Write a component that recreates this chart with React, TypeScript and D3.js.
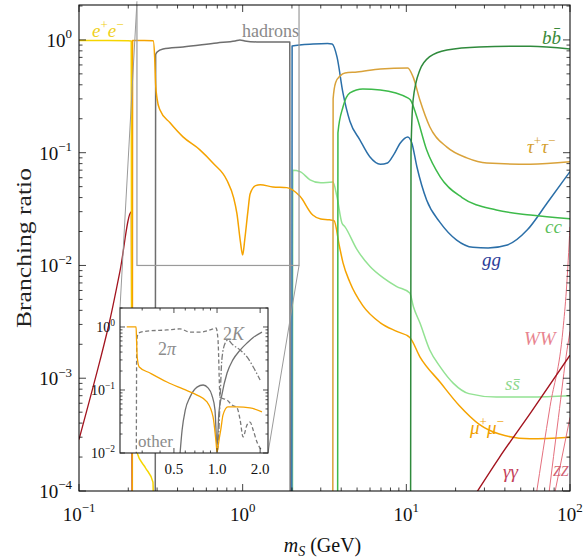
import React from 'react';
import * as d3 from 'd3';

type Pt = [number, number];

// main panel: branching ratios vs m_S (GeV)
const eeBR: Pt[] = [[0.1, 0.99], [0.15, 0.99], [0.2, 0.985], [0.2085, 0.98], [0.2095, 0.003], [0.214, 6e-4], [0.22, 3e-4], [0.226, 2.2e-4], [0.255, 1.6e-4], [0.283, 1.2e-4], [0.286, 5e-5]];
const mumuBR: Pt[] = [[0.2115, 1e-5], [0.2125, 0.99], [0.25, 0.99], [0.284, 0.985], [0.29, 0.7], [0.294, 0.4], [0.3, 0.3], [0.312, 0.24], [0.36, 0.184], [0.432, 0.138], [0.548, 0.106], [0.658, 0.081], [0.801, 0.057], [0.88, 0.04], [0.922, 0.029], [0.97, 0.016], [1.0, 0.0124], [1.03, 0.017], [1.076, 0.03], [1.11, 0.043], [1.2, 0.051], [1.28, 0.052], [1.53, 0.0497], [1.86, 0.049], [2.24, 0.041], [2.68, 0.028], [3.0, 0.0258], [3.39, 0.0254], [3.62, 0.0249], [3.9, 0.0148], [4.1, 0.0106], [4.52, 0.0071], [5.42, 0.0044], [6.94, 0.0031], [8.74, 0.0026], [10.5, 0.0023], [12.1, 0.00155], [16.1, 0.00092], [21.1, 0.00057], [27.9, 0.00039], [37, 0.00032], [57, 0.00029], [100, 0.0003]];
const hadronsBR: Pt[] = [[0.292, 1e-5], [0.294, 0.74], [0.3, 0.78], [0.326, 0.832], [0.432, 0.867], [0.697, 0.941], [0.9, 0.98], [0.963, 1.0], [1.03, 0.98], [1.22, 0.96], [1.94, 0.96], [1.955, 1e-5]];
const ggBR: Pt[] = [[1.995, 1e-5], [2.005, 0.885], [2.69, 0.92], [3.3, 0.93], [3.52, 0.92], [3.77, 0.707], [4.1, 0.339], [4.52, 0.19], [5.2, 0.13], [5.98, 0.092], [6.94, 0.079], [7.67, 0.081], [8.34, 0.095], [9.19, 0.122], [10.2, 0.138], [10.8, 0.122], [11.6, 0.075], [13.3, 0.038], [16.1, 0.024], [20.3, 0.0168], [25.5, 0.0145], [31.6, 0.0143], [41.4, 0.0152], [54.9, 0.0207], [72.7, 0.036], [100, 0.068]];
const ssBR: Pt[] = [[2.015, 1e-5], [2.025, 0.07], [2.24, 0.068], [2.58, 0.0575], [3.0, 0.054], [3.56, 0.055], [3.77, 0.0405], [4.04, 0.0238], [4.22, 0.022], [5.0, 0.0138], [6.0, 0.0098], [7.2, 0.0078], [8.74, 0.0065], [10.5, 0.0057], [11.05, 0.0043], [12.1, 0.0031], [13.9, 0.00178], [16.1, 0.00126], [19.4, 0.0009], [24.1, 0.00073], [35.5, 0.00068], [57, 0.00068], [100, 0.0007]];
const tautauBR: Pt[] = [[3.55, 1e-5], [3.57, 0.3], [3.7, 0.42], [3.94, 0.48], [4.22, 0.51], [5.0, 0.52], [6.94, 0.553], [10.2, 0.565], [11.0, 0.47], [12.1, 0.293], [13.9, 0.17], [17.7, 0.112], [23.4, 0.09], [31, 0.081], [57.3, 0.079], [100, 0.083]];
const ccBR: Pt[] = [[3.8, 1e-5], [3.82, 0.15], [4.1, 0.254], [4.52, 0.339], [5.42, 0.368], [6.94, 0.36], [10.2, 0.306], [10.6, 0.293], [11.6, 0.207], [13.3, 0.106], [16.1, 0.061], [21.9, 0.04], [35.5, 0.031], [57.3, 0.028], [100, 0.026]];
const bbBR: Pt[] = [[10.6, 1e-5], [10.68, 0.1], [11.0, 0.293], [12.1, 0.54], [13.9, 0.71], [17.7, 0.815], [27.8, 0.867], [57.3, 0.88], [100, 0.83]];
const gamgamLowBR: Pt[] = [[0.1, 2.86e-4], [0.1167, 6.6e-4], [0.1343, 1.43e-3], [0.1546, 3.3e-3], [0.178, 8.9e-3], [0.209, 0.03], [0.212, 1e-5]];
const gamgamHighBR: Pt[] = [[26, 9e-5], [37, 1.98e-4], [57.3, 4.9e-4], [100, 1.6e-3]];
const wwBR: Pt[] = [[62, 9e-5], [75.5, 5.6e-4], [90.6, 2.7e-3], [95, 6e-3], [100, 0.022]];
const zzBR: Pt[] = [[74, 9e-5], [85, 4.5e-4], [96, 1.8e-3], [100, 2.6e-3]];
const zzLowBR: Pt[] = [[80, 9e-5], [100, 4.5e-4]];

// inset: hadronic channels, 0.2 - 2.2 GeV
const insetMumu: Pt[] = [[0.234, 1.0], [0.272, 1.0], [0.274, 0.62], [0.277, 0.334], [0.286, 0.232], [0.34, 0.186], [0.447, 0.134], [0.578, 0.104], [0.725, 0.083], [0.851, 0.0645], [0.938, 0.0373], [0.984, 0.015], [1.0, 0.0104], [1.033, 0.0162], [1.067, 0.025], [1.1, 0.04], [1.19, 0.054], [1.38, 0.054], [1.7, 0.052], [2.06, 0.045]];
const inset2pi: Pt[] = [[0.273, 0.009], [0.275, 0.62], [0.283, 0.8], [0.324, 0.86], [0.447, 0.896], [0.551, 0.93], [0.647, 0.83], [0.76, 0.83], [0.893, 0.896], [0.984, 0.964], [1.016, 0.62], [1.05, 0.077], [1.175, 0.069], [1.27, 0.058], [1.38, 0.052], [1.45, 0.0334], [1.52, 0.018], [1.62, 0.028], [1.7, 0.031], [1.79, 0.023], [1.91, 0.0145], [2.06, 0.011]];
const inset2K: Pt[] = [[1.0, 0.0105], [1.016, 0.0125], [1.05, 0.069], [1.08, 0.3], [1.14, 0.557], [1.19, 0.62], [1.29, 0.52], [1.45, 0.43], [1.62, 0.334], [1.79, 0.232], [2.0, 0.144]];
const insetOther: Pt[] = [[0.551, 0.0095], [0.57, 0.023], [0.6, 0.048], [0.647, 0.077], [0.725, 0.111], [0.8, 0.12], [0.865, 0.108], [0.92, 0.083], [0.968, 0.048], [1.0, 0.0125], [1.03, 0.043], [1.08, 0.083], [1.175, 0.186], [1.29, 0.3], [1.45, 0.43], [1.62, 0.557], [1.79, 0.68], [2.06, 0.83]];

// ticks
const xMajorExp = [-1, 0, 1, 2];
const yMajorExp = [0, -1, -2, -3, -4];
const insetXTicks = [0.5, 1.0, 2.0];
const insetXLabels = ['0.5', '1.0', '2.0'];
const insetXMinor = [0.3, 0.4, 0.6, 0.7, 0.8, 0.9];
const insetYExp = [0, -1, -2];

const W = 585, H = 558;
const F = { l: 79, r: 570, t: 5, b: 491 };
const I = { l: 120, r: 268, t: 308, b: 453 };
const zoomX: Pt = [0.226, 2.21];
const zoomY: Pt = [0.01, 2.2];

const serif = '"Liberation Serif", "DejaVu Serif", serif';

const x = d3.scaleLog().domain([0.1, 100]).range([F.l, F.r]);
const y = d3.scaleLog().domain([1e-4, 2.04]).range([F.b, F.t]);
const xi = d3.scaleLog().domain([0.21, 2.27]).range([I.l, I.r]);
const yi = d3.scaleLog().domain([0.01, 2.0]).range([I.b, I.t]);

const mainLine = d3.line<Pt>().x(d => x(d[0])).y(d => y(d[1])).curve(d3.curveMonotoneX);
const insetLine = d3.line<Pt>().x(d => xi(d[0])).y(d => yi(d[1])).curve(d3.curveMonotoneX);

const mainSeries = [
  { pts: gamgamLowBR, color: '#a3141f', w: 1.3 },
  { pts: eeBR, color: '#f6d500', w: 1.5 },
  { pts: hadronsBR, color: '#6e6e6e', w: 1.5 },
  { pts: ssBR, color: '#93e293', w: 1.5 },
  { pts: ggBR, color: '#2b6fa8', w: 1.5 },
  { pts: mumuBR, color: '#f5a300', w: 1.5 },
  { pts: tautauBR, color: '#d9a23a', w: 1.5 },
  { pts: ccBR, color: '#3dba4a', w: 1.5 },
  { pts: bbBR, color: '#2f8a3c', w: 1.5 },
  { pts: wwBR, color: '#e5707e', w: 1 },
  { pts: zzBR, color: '#e5707e', w: 1 },
  { pts: zzLowBR, color: '#e5707e', w: 1 },
  { pts: gamgamHighBR, color: '#a3141f', w: 1.4 },
];

const insetSeries = [
  { pts: insetOther, color: '#707070', dash: undefined as string | undefined },
  { pts: inset2pi, color: '#7a7a7a', dash: '4,2.5' },
  { pts: inset2K, color: '#7a7a7a', dash: '6,2,1.5,2' },
  { pts: insetMumu, color: '#f5a300', dash: undefined },
];

function decadeMinors(lo: number, hi: number, domain: [number, number]) {
  const out: number[] = [];
  for (let e = lo; e <= hi; e++) {
    for (let m = 2; m <= 9; m++) {
      const v = m * Math.pow(10, e);
      if (v > domain[0] && v < domain[1]) out.push(v);
    }
  }
  return out;
}

function Pow({ px, py, exp, size, anchor }: { px: number; py: number; exp: number; size: number; anchor: string }) {
  const s = size * 0.68;
  return (
    <text x={px} y={py} fontSize={size} textAnchor={anchor} fontFamily={serif} fill="#111">
      10<tspan dy={-size * 0.45} fontSize={s}>{exp < 0 ? '\u2212' + Math.abs(exp) : String(exp)}</tspan>
    </text>
  );
}

export default function App() {
  const xMinor = decadeMinors(-1, 1, [0.1, 100]);
  const yMinor = decadeMinors(-4, 0, [1e-4, 2.04]);
  const yiMinor = decadeMinors(-2, 0, [0.01, 2.01]);
  const maj = 7, mnr = 3.5, imaj = 5, imnr = 2.5;

  return (
    <svg width={W} height={H} style={{ position: 'absolute', left: 0, top: 0, background: '#fff' }}>
      <defs>
        <clipPath id="mainClip"><rect x={F.l} y={F.t} width={F.r - F.l} height={F.b - F.t} /></clipPath>
        <clipPath id="insetClip"><rect x={I.l} y={I.t} width={I.r - I.l} height={I.b - I.t} /></clipPath>
      </defs>

      <g clipPath="url(#mainClip)" fill="none">
        {mainSeries.map((s, i) => (
          <path key={i} d={mainLine(s.pts) || ''} stroke={s.color} strokeWidth={s.w} strokeLinejoin="round" />
        ))}
        {/* zoomed region */}
        <rect x={x(zoomX[0])} y={y(zoomY[1])} width={x(zoomX[1]) - x(zoomX[0])} height={y(zoomY[0]) - y(zoomY[1])}
          stroke="#9a9a9a" strokeWidth={1.2} />
      </g>

      {/* connectors to inset */}
      <line x1={x(zoomX[0])} y1={y(zoomY[1])} x2={I.l} y2={I.t} stroke="#9a9a9a" strokeWidth={1} />
      <line x1={x(zoomX[1])} y1={y(zoomY[0])} x2={I.r} y2={I.b} stroke="#9a9a9a" strokeWidth={1} />

      {/* inset */}
      <rect x={I.l} y={I.t} width={I.r - I.l} height={I.b - I.t} fill="#fff" />
      <g clipPath="url(#insetClip)" fill="none">
        {insetSeries.map((s, i) => (
          <path key={i} d={insetLine(s.pts) || ''} stroke={s.color} strokeWidth={1.3} strokeDasharray={s.dash} />
        ))}
      </g>
      <g stroke="#222" strokeWidth={0.8}>
        {insetXTicks.map(v => (
          <g key={'ixt' + v}>
            <line x1={xi(v)} x2={xi(v)} y1={I.b} y2={I.b - imaj} />
            <line x1={xi(v)} x2={xi(v)} y1={I.t} y2={I.t + imaj} />
          </g>
        ))}
        {insetXMinor.map(v => (
          <g key={'ixm' + v}>
            <line x1={xi(v)} x2={xi(v)} y1={I.b} y2={I.b - imnr} />
            <line x1={xi(v)} x2={xi(v)} y1={I.t} y2={I.t + imnr} />
          </g>
        ))}
        {insetYExp.map(e => (
          <g key={'iyt' + e}>
            <line x1={I.l} x2={I.l + imaj} y1={yi(Math.pow(10, e))} y2={yi(Math.pow(10, e))} />
            <line x1={I.r} x2={I.r - imaj} y1={yi(Math.pow(10, e))} y2={yi(Math.pow(10, e))} />
          </g>
        ))}
        {yiMinor.map(v => (
          <g key={'iym' + v}>
            <line x1={I.l} x2={I.l + imnr} y1={yi(v)} y2={yi(v)} />
            <line x1={I.r} x2={I.r - imnr} y1={yi(v)} y2={yi(v)} />
          </g>
        ))}
      </g>
      <rect x={I.l} y={I.t} width={I.r - I.l} height={I.b - I.t} fill="none" stroke="#222" strokeWidth={1.1} />
      {insetYExp.map(e => (
        <Pow key={'iyl' + e} px={I.l - 5} py={yi(Math.pow(10, e)) + 5} exp={e} size={14} anchor="end" />
      ))}
      {insetXTicks.map((v, i) => (
        <text key={'ixl' + v} x={xi(v)} y={I.b + 21} fontSize={15} textAnchor="middle" fontFamily={serif} fill="#111">{insetXLabels[i]}</text>
      ))}
      <g fontFamily={serif} fill="#8c8c8c">
        <text x={158} y={355} fontSize={18}>2<tspan fontStyle="italic">π</tspan></text>
        <text x={223} y={340} fontSize={18}>2<tspan fontStyle="italic">K</tspan></text>
        <text x={138} y={447} fontSize={17}>other</text>
      </g>

      {/* main frame and ticks */}
      <g stroke="#111" strokeWidth={0.8}>
        {xMajorExp.map(e => {
          const px = x(Math.pow(10, e));
          return (
            <g key={'xt' + e}>
              <line x1={px} x2={px} y1={F.b} y2={F.b - maj} />
              <line x1={px} x2={px} y1={F.t} y2={F.t + maj} />
            </g>
          );
        })}
        {xMinor.map(v => (
          <g key={'xm' + v}>
            <line x1={x(v)} x2={x(v)} y1={F.b} y2={F.b - mnr} />
            <line x1={x(v)} x2={x(v)} y1={F.t} y2={F.t + mnr} />
          </g>
        ))}
        {yMajorExp.map(e => {
          const py = y(Math.pow(10, e));
          return (
            <g key={'yt' + e}>
              <line x1={F.l} x2={F.l + maj} y1={py} y2={py} />
              <line x1={F.r} x2={F.r - maj} y1={py} y2={py} />
            </g>
          );
        })}
        {yMinor.map(v => (
          <g key={'ym' + v}>
            <line x1={F.l} x2={F.l + mnr} y1={y(v)} y2={y(v)} />
            <line x1={F.r} x2={F.r - mnr} y1={y(v)} y2={y(v)} />
          </g>
        ))}
      </g>
      <rect x={F.l} y={F.t} width={F.r - F.l} height={F.b - F.t} fill="none" stroke="#111" strokeWidth={1.1} />

      {xMajorExp.map(e => (
        <Pow key={'xl' + e} px={x(Math.pow(10, e))} py={F.b + 30} exp={e} size={19} anchor="middle" />
      ))}
      {yMajorExp.map(e => (
        <Pow key={'yl' + e} px={F.l - 7} py={y(Math.pow(10, e)) + 7} exp={e} size={19} anchor="end" />
      ))}

      <text x={F.l + (F.r - F.l) / 2 - 2} y={552} fontSize={20} textAnchor="middle" fontFamily={serif} fill="#111">
        <tspan fontStyle="italic">m</tspan><tspan dy={4} fontSize={14} fontStyle="italic">S</tspan><tspan dy={-4}> (GeV)</tspan>
      </text>
      <text transform="translate(31,248) rotate(-90)" fontSize={22} textAnchor="middle" fontFamily={serif} fill="#222"
        textLength={160} lengthAdjust="spacingAndGlyphs">Branching ratio</text>

      {/* channel labels */}
      <g fontFamily={serif}>
        <text x={92} y={37} fontSize={19} fill="#f0d020">
          <tspan fontStyle="italic">e</tspan><tspan dy={-8} fontSize={13}>+</tspan>
          <tspan dy={8} fontStyle="italic">e</tspan><tspan dy={-8} fontSize={13}>{'\u2212'}</tspan>
        </text>
        <text x={242} y={37} fontSize={18} fill="#8a8a8a">hadrons</text>
        <text x={542} y={44} fontSize={19} fill="#3a8a3a" fontStyle="italic">{'bb\u0304'}</text>
        <text x={527} y={153} fontSize={19} fill="#d4a030">
          <tspan fontStyle="italic">τ</tspan><tspan dy={-8} fontSize={13}>+</tspan>
          <tspan dy={8} fontStyle="italic">τ</tspan><tspan dy={-8} fontSize={13}>{'\u2212'}</tspan>
        </text>
        <text x={545} y={233} fontSize={19} fill="#5cbf5c" fontStyle="italic">cc</text>
        <text x={482} y={266} fontSize={19} fill="#2c3d99" fontStyle="italic">gg</text>
        <text x={524} y={345} fontSize={19} fill="#e8848f" fontStyle="italic">WW</text>
        <text x={505} y={390} fontSize={19} fill="#8fd88f" fontStyle="italic">{'ss\u0304'}</text>
        <text x={470} y={434} fontSize={19} fill="#f0a000">
          <tspan fontStyle="italic">μ</tspan><tspan dy={-8} fontSize={13}>+</tspan>
          <tspan dy={8} fontStyle="italic">μ</tspan><tspan dy={-8} fontSize={13}>{'\u2212'}</tspan>
        </text>
        <text x={503} y={478} fontSize={19} fill="#c4405a" fontStyle="italic">γγ</text>
        <text x={553} y={476} fontSize={14} fill="#d06070" fontStyle="italic">ZZ</text>
      </g>
    </svg>
  );
}
